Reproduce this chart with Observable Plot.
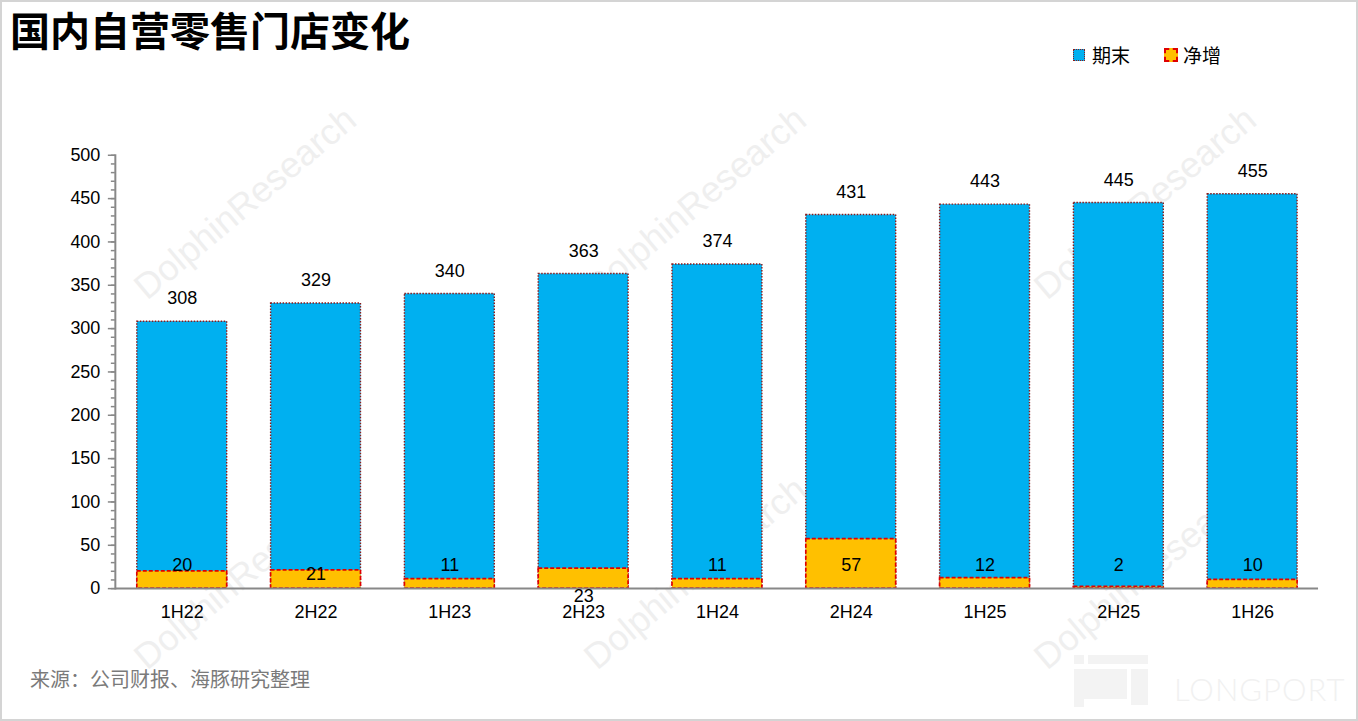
<!DOCTYPE html>
<html><head><meta charset="utf-8">
<script src="https://cdn.jsdelivr.net/npm/d3@7"></script>
<script src="https://cdn.jsdelivr.net/npm/@observablehq/plot@0.6"></script>
<style>
html,body{margin:0;padding:0;background:#fff;}
#wrap{position:relative;width:1358px;height:721px;box-sizing:border-box;border:2px solid #d4d4d4;overflow:hidden;font-family:"Liberation Sans","Noto Sans CJK SC",Arial,sans-serif;}
#chart{position:absolute;left:-2px;top:-2px;}
#title{position:absolute;left:8px;top:2px;font-size:40px;font-weight:bold;color:#000;font-family:"Noto Sans CJK SC",sans-serif;line-height:50px;}
#legend{position:absolute;left:1071px;top:40px;font-size:19px;color:#000;font-family:"Noto Sans CJK SC",sans-serif;display:flex;align-items:center;line-height:26px;}
.sw{display:inline-block;width:12px;height:12px;margin-right:7px;box-sizing:border-box;}
#source{position:absolute;left:28px;top:663px;font-size:20px;color:#7a7a7a;font-family:"Noto Sans CJK SC",sans-serif;line-height:28px;}
.wm{position:absolute;font-size:36px;color:#efefef;transform:rotate(-40deg);transform-origin:center;font-family:"Liberation Sans",Arial,sans-serif;white-space:nowrap;}
#logo{position:absolute;left:1172px;top:668px;font-size:31px;color:#f1f1f1;letter-spacing:1px;font-family:"Lato","Liberation Sans",sans-serif;font-weight:300;}
.lg{position:absolute;background:#f3f3f3;}
</style></head>
<body>
<div id="wrap">
  <div class="wm" style="left:105px;top:180px;">DolphinResearch</div>
  <div class="wm" style="left:555px;top:180px;">DolphinResearch</div>
  <div class="wm" style="left:1005px;top:180px;">DolphinResearch</div>
  <div class="wm" style="left:105px;top:550px;">DolphinResearch</div>
  <div class="wm" style="left:555px;top:550px;">DolphinResearch</div>
  <div class="wm" style="left:1005px;top:550px;">DolphinResearch</div>
  <div class="lg" style="left:1072px;top:653px;width:10px;height:9px;"></div>
  <div class="lg" style="left:1086px;top:653px;width:60px;height:9px;"></div>
  <div class="lg" style="left:1072px;top:667px;width:53px;height:30px;"></div>
  <div class="lg" style="left:1129px;top:667px;width:17px;height:36px;"></div>
  <div class="lg" style="left:1072px;top:697px;width:10px;height:8px;"></div>
  <div id="logo">LONGPORT</div>
  <div id="chart"></div>
  <div id="title">国内自营零售门店变化</div>
  <div id="legend">
    <span class="sw" style="background:#00B0F0;border:1.5px dotted #8B1A1A;"></span><span>期末</span>
    <span style="width:34px;display:inline-block"></span>
    <span class="sw" style="background:#FFC000;border:2px dashed #E00000;width:14px;height:14px;margin-right:5px;"></span><span>净增</span>
  </div>
  <div id="source">来源：公司财报、海豚研究整理</div>
</div>
<script>
const periods = ["1H22","2H22","1H23","2H23","1H24","2H24","1H25","2H25","1H26"];
const endStores = [308,329,340,363,374,431,443,445,455];
const netAdds = [20,21,11,23,11,57,12,2,10];
const yTicks = [0,50,100,150,200,250,300,350,400,450,500];

const data = periods.map((p,i)=>({period:p, end:endStores[i], net:netAdds[i], i}));
const netLabelLevel = 26.5;

const normal = data.filter(d=>d.period!=="2H22" && d.period!=="2H23");
const lab21 = data.filter(d=>d.period==="2H22");
const lab23 = data.filter(d=>d.period==="2H23");

const chart = Plot.plot({
  width: 1358,
  height: 640,
  marginTop: 155,
  marginBottom: 51,
  marginLeft: 115,
  marginRight: 38,
  style: {fontFamily: '"Liberation Sans","Noto Sans CJK SC",Arial,sans-serif', fontSize: "18px", color:"#000", background:"transparent"},
  x: {domain: periods, paddingInner: 0.33, paddingOuter: 0.15, label: null},
  y: {domain: [0,500], label: null},
  marks: [
    Plot.barY(data, {x:"period", y:"end", fill:"#00B0F0", stroke:"#8B1A1A", strokeWidth:1.4, strokeDasharray:"1.5,1.5"}),
    Plot.barY(data, {x:"period", y:"net", fill:"#FFC000", stroke:"#E00000", strokeWidth:1.7, strokeDasharray:"4,2"}),
    Plot.axisY({ticks: d3.range(0,501,10), tickSize:4, text:null, stroke:"#888", strokeWidth:1.5, label:null}),
    Plot.axisY({ticks: yTicks, tickSize:7, tickPadding:8, stroke:"#888", strokeWidth:1.5, fontSize:18, fill:"#000", label:null}),
    Plot.axisX({tickSize:0, tickPadding:17, fontSize:18, fill:"#000", label:null}),
    Plot.ruleY([0], {stroke:"#888", strokeWidth:2}),
    Plot.frame({anchor:"left", stroke:"#888", strokeWidth:2}),
    Plot.text(data, {x:"period", y:"end", text:d=>String(d.end), dy:-23, fontSize:18, fill:"#000"}),
    Plot.text(normal, {x:"period", y:()=>netLabelLevel, text:d=>String(d.net), fontSize:18, fill:"#000"}),
    Plot.text(lab21, {x:"period", y:()=>netLabelLevel, text:d=>String(d.net), dy:9, fontSize:18, fill:"#000"}),
    Plot.text(lab23, {x:"period", y:()=>netLabelLevel, text:d=>String(d.net), dy:31, fontSize:18, fill:"#000"})
  ]
});
document.getElementById("chart").appendChild(chart);
</script>
</body></html>
